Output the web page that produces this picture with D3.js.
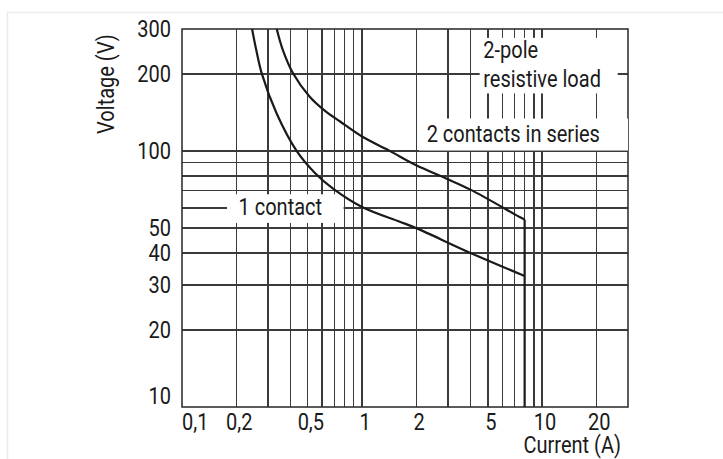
<!DOCTYPE html>
<html>
<head>
<meta charset="utf-8">
<title>2-pole resistive load - D3.js</title>
<script src="https://d3js.org/d3.v7.min.js"></script>
<style>
body { margin: 0; background: #fff; }
svg text { font-family: Roboto, "Noto Sans", sans-serif; fill: #1a1a1a; }
.grid line { stroke: #3a3a3a; stroke-width: 1.3px; shape-rendering: crispEdges; }
.frame { fill: none; stroke: #333; stroke-width: 1.6px; }
.curve { fill: none; stroke: #1a1a1a; stroke-width: 2.2px; }
</style>
</head>
<body>
<svg width="723" height="459"></svg>

<script>
// current in A, voltage in V
const oneContactI = [0.245, 0.258, 0.278, 0.336, 0.434, 0.549, 0.69, 1.0, 1.62, 2.0, 4.0, 8.0];
const oneContactV = [300, 250, 200, 140, 100, 82, 71.4, 60.5, 53, 50, 40, 32.5];

const twoContactsI = [0.336, 0.362, 0.416, 0.512, 0.623, 0.755, 1.0, 1.43, 2.0, 2.95, 4.0, 7.5, 8.0];
const twoContactsV = [300, 250, 200, 163, 143.5, 130.5, 114, 100, 88, 78, 70.7, 55.3, 54];

const cutoffI = 8;

const xTicks = [0.1, 0.2, 0.5, 1, 2, 5, 10, 20];
const xTickLabels = ["0,1", "0,2", "0,5", "1", "2", "5", "10", "20"];
const yTicks = [10, 20, 30, 40, 50, 100, 200, 300];
const yTickLabels = ["10", "20", "30", "40", "50", "100", "200", "300"];

const xGrid = [0.2, 0.3, 0.4, 0.5, 0.6, 0.7, 0.8, 0.9, 1, 2, 3, 4, 5, 6, 7, 8, 9, 10, 20];
const yGrid = [20, 30, 40, 50, 60, 70, 80, 90, 100, 200];

const svg = d3.select("svg");
const margin = { top: 29, right: 95, bottom: 52, left: 182 };
const width = +svg.attr("width") - margin.left - margin.right;
const height = +svg.attr("height") - margin.top - margin.bottom;

const condense = 0.87;
function narrow(sel) {
  sel.each(function () {
    const len = this.getComputedTextLength();
    d3.select(this).attr("textLength", len * condense).attr("lengthAdjust", "spacingAndGlyphs");
  });
}

// faint page border
svg.append("path")
  .attr("d", "M7.5,459V12.5H723")
  .attr("fill", "none")
  .attr("stroke", "#ebebeb")
  .attr("stroke-width", 1.5);

const g = svg.append("g").attr("transform", `translate(${margin.left},${margin.top})`);

const x = d3.scaleLog().domain([0.1, 30]).range([0, width]);
const y = d3.scaleLog().domain([10, 300]).range([height, 0]);

// grid
const grid = g.append("g").attr("class", "grid");
grid.selectAll(".vx").data(xGrid).enter().append("line")
  .attr("x1", d => x(d)).attr("x2", d => x(d))
  .attr("y1", 0).attr("y2", height);
grid.selectAll(".hy").data(yGrid).enter().append("line")
  .attr("x1", 0).attr("x2", width)
  .attr("y1", d => y(d)).attr("y2", d => y(d));

g.append("rect").attr("class", "frame")
  .attr("x", 0).attr("y", 0).attr("width", width).attr("height", height);

// label backgrounds (cut the grid), given in data space
const boxes = [
  { i0: 4.5, i1: 26.3, v0: 168, v1: 277 },
  { i0: 2.07, i1: 30, v0: 100.5, v1: 134 },
  { i0: 0.178, i1: 0.79, v0: 52.4, v1: 67.8 }
];
g.selectAll(".bg").data(boxes).enter().append("rect")
  .attr("fill", "#fff")
  .attr("x", d => x(d.i0)).attr("width", d => x(d.i1) - x(d.i0))
  .attr("y", d => y(d.v1)).attr("height", d => y(d.v0) - y(d.v1));

// curves
const line = d3.line()
  .x(d => x(d[0])).y(d => y(d[1]))
  .curve(d3.curveCatmullRom.alpha(0.5));

const oneContact = oneContactI.map((c, i) => [c, oneContactV[i]]);
const twoContacts = twoContactsI.map((c, i) => [c, twoContactsV[i]]);

g.append("path").datum(oneContact).attr("class", "curve").attr("d", line);
g.append("path").datum(twoContacts).attr("class", "curve").attr("d", line);

// vertical cut-off at 8 A down to the axis
g.append("path").datum([[cutoffI, twoContactsV[twoContactsV.length - 1]], [cutoffI, 10]])
  .attr("class", "curve").attr("d", d3.line().x(d => x(d[0])).y(d => y(d[1])));

// axes labels
const fs = 23;
g.selectAll(".xt").data(xTicks).enter().append("text")
  .attr("x", (d, i) => x(d) + (i === 0 ? 0 : 3))
  .attr("y", height + 23)
  .attr("text-anchor", (d, i) => i === 0 ? "start" : "middle")
  .attr("font-size", fs)
  .text((d, i) => xTickLabels[i])
  .call(narrow);

g.selectAll(".yt").data(yTicks).enter().append("text")
  .attr("x", -11)
  .attr("y", (d, i) => y(d) + (i === 0 ? -11 : 0))
  .attr("dy", "0.36em")
  .attr("text-anchor", "end")
  .attr("font-size", fs)
  .text((d, i) => yTickLabels[i])
  .call(narrow);

g.append("text")
  .attr("x", width - 7).attr("y", height + 46)
  .attr("text-anchor", "end")
  .attr("font-size", fs)
  .text("Current (A)")
  .call(narrow);

g.append("text")
  .attr("transform", `translate(-68,${y(200) + 10}) rotate(-90)`)
  .attr("text-anchor", "middle")
  .attr("font-size", fs)
  .text("Voltage (V)")
  .call(narrow);

// annotations
const notes = [
  { text: "2-pole", i: 4.71, v: 231 },
  { text: "resistive load", i: 4.71, v: 178.7 },
  { text: "2 contacts in series", i: 2.285, v: 108.4 },
  { text: "1 contact", i: 0.206, v: 56.2 }
];
g.selectAll(".note").data(notes).enter().append("text")
  .attr("x", d => x(d.i)).attr("y", d => y(d.v))
  .attr("font-size", fs)
  .text(d => d.text)
  .call(narrow);
</script>
</body>
</html>
